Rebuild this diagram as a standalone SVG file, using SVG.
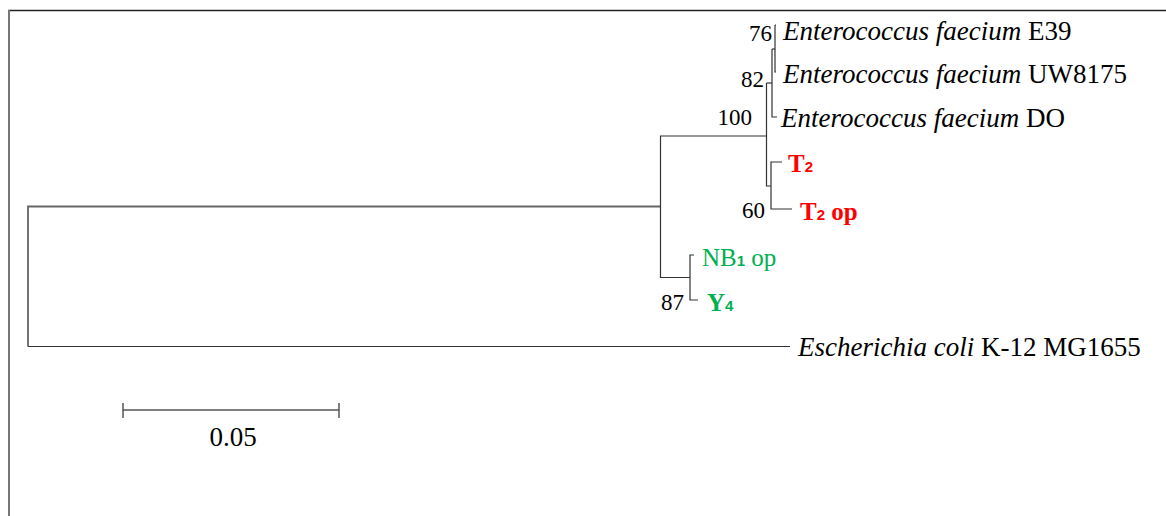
<svg xmlns="http://www.w3.org/2000/svg" width="1166" height="516" viewBox="0 0 1166 516">
<style>
.br{stroke:#333;stroke-width:1.2;fill:none}
.root{stroke:#666;stroke-width:1.8;fill:none}
.nm{font-family:"Liberation Serif","Times New Roman",serif;font-size:27px;fill:#000}
.bs{font-family:"Liberation Serif","Times New Roman",serif;font-size:23px;fill:#000;text-anchor:end}
.red{font-family:"Liberation Serif","Times New Roman",serif;font-size:25px;font-weight:bold;fill:#FF0000}
.grn{font-family:"Liberation Serif","Times New Roman",serif;font-size:25px;fill:#00B050}
.sub{font-family:"Liberation Sans",Arial,sans-serif;font-size:15px;font-weight:bold}
</style>
<rect width="1166" height="516" fill="#fff"/>
<g id="frame">
<line x1="8" y1="10.5" x2="1166" y2="10.5" stroke="#222" stroke-width="1.5"/>
<line x1="9" y1="10" x2="9" y2="516" stroke="#777" stroke-width="2"/>
</g>
<g id="connectors">
<path class="root" d="M660,206.5 H28 V346.5"/>
<path class="br" d="M28,346.5 H790"/>
<path class="br" d="M690,277.5 H660.5 V136 H766.5"/>
<path class="br" d="M766.5,83 V186 H771"/>
<path class="br" d="M766.5,83 H772"/>
<path class="br" d="M772,49 V117 H777"/>
<path class="br" d="M772,49 H775"/>
<path class="br" d="M775,25 V72 H776"/>
<path class="br" d="M775,25 H776"/>
<path class="br" d="M782,162 H771 V209 H792"/>
<path class="br" d="M694,255 H690 V300 H698"/>
</g>
<g id="leaf-e39"><text class="nm" x="783" y="40"><tspan font-style="italic">Enterococcus faecium</tspan> E39</text></g>
<g id="leaf-uw8175"><text class="nm" x="783" y="83"><tspan font-style="italic">Enterococcus faecium</tspan> UW8175</text></g>
<g id="leaf-do"><text class="nm" x="781" y="127"><tspan font-style="italic">Enterococcus faecium</tspan> DO</text></g>
<g id="leaf-t2"><text class="red" x="788" y="172">T<tspan class="sub">2</tspan></text></g>
<g id="leaf-t2op"><text class="red" x="800" y="220">T<tspan class="sub">2</tspan> op</text></g>
<g id="leaf-nb1op"><text class="grn" x="702" y="266">NB<tspan class="sub">1</tspan> op</text></g>
<g id="leaf-y4"><text class="grn" font-weight="bold" x="707" y="311">Y<tspan class="sub">4</tspan></text></g>
<g id="leaf-ecoli"><text class="nm" x="798" y="356"><tspan font-style="italic">Escherichia coli</tspan> K-12 MG1655</text></g>
<g id="bootstrap">
<text class="bs" x="772" y="41">76</text>
<text class="bs" x="764" y="87">82</text>
<text class="bs" x="752" y="125">100</text>
<text class="bs" x="765" y="218">60</text>
<text class="bs" x="684" y="310" font-size="26">87</text>
</g>
<g id="scalebar">
<path d="M123,410 H339 M123,403 V418 M339,403 V418" stroke="#555" stroke-width="1.5" fill="none"/>
<text class="nm" x="233" y="446" text-anchor="middle">0.05</text>
</g>
</svg>
